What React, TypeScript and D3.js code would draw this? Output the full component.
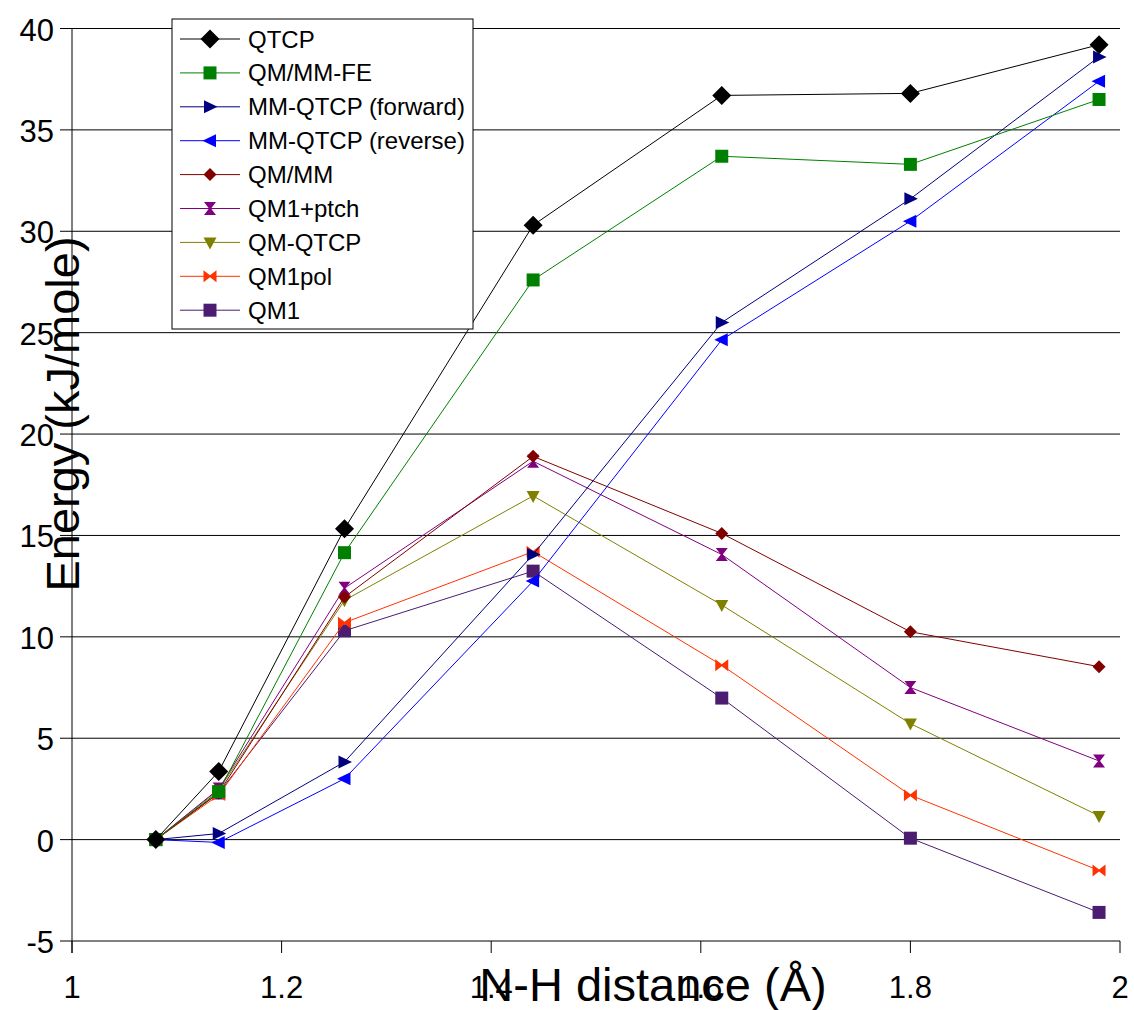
import React from "react";
import * as d3 from "d3";

const xValues = [1.08, 1.14, 1.26, 1.44, 1.62, 1.8, 1.98];
const seriesNames = [
  "QTCP",
  "QM/MM-FE",
  "MM-QTCP (forward)",
  "MM-QTCP (reverse)",
  "QM/MM",
  "QM1+ptch",
  "QM-QTCP",
  "QM1pol",
  "QM1",
];
const qtcp = [0, 3.36, 15.33, 30.3, 36.7, 36.8, 39.2];
const qmmmFE = [0, 2.37, 14.15, 27.6, 33.7, 33.3, 36.5];
const mmqtcpForward = [0, 0.3, 3.83, 14.06, 25.5, 31.6, 38.6];
const mmqtcpReverse = [0, -0.14, 3.0, 12.75, 24.65, 30.5, 37.4];
const qmmm = [0, 2.3, 11.96, 18.9, 15.1, 10.25, 8.53];
const qm1ptch = [0, 2.5, 12.4, 18.66, 14.06, 7.5, 3.88];
const qmqtcp = [0, 2.45, 11.8, 16.95, 11.57, 5.72, 1.17];
const qm1pol = [0, 2.2, 10.7, 14.2, 8.6, 2.19, -1.52];
const qm1 = [0, 2.3, 10.3, 13.24, 6.98, 0.07, -3.59];

const seriesValues = [qtcp, qmmmFE, mmqtcpForward, mmqtcpReverse, qmmm, qm1ptch, qmqtcp, qm1pol, qm1];
const seriesColors = ["#000000", "#008000", "#000080", "#0000FF", "#800000", "#800080", "#808000", "#FF3300", "#4B1C70"];
const seriesMarkers = ["bigDiamond", "square", "triRight", "triLeft", "diamond", "hourglass", "triDown", "bowtie", "square"];

const xTicks = [1, 1.2, 1.4, 1.6, 1.8, 2];
const xTickLabels = ["1", "1.2", "1.4", "1.6", "1.8", "2"];
const yTicks = [-5, 0, 5, 10, 15, 20, 25, 30, 35, 40];

const W = 1134;
const H = 1010;
const left = 72;
const right = 1120;
const top = 28.5;
const bottom = 941;

function markerPath(kind: string): string {
  switch (kind) {
    case "bigDiamond":
      return "M0,-9.5L9.5,0L0,9.5L-9.5,0Z";
    case "diamond":
      return "M0,-6.5L6.5,0L0,6.5L-6.5,0Z";
    case "square":
      return "M-6.5,-6.5L6.5,-6.5L6.5,6.5L-6.5,6.5Z";
    case "triRight":
      return "M-6,-6.5L7.5,0L-6,6.5Z";
    case "triLeft":
      return "M6,-6.5L-7.5,0L6,6.5Z";
    case "triDown":
      return "M-6.5,-5L6.5,-5L0,7Z";
    case "hourglass":
      return "M-6,-6.5L6,-6.5L1,0L6,6.5L-6,6.5L-1,0Z";
    case "bowtie":
      return "M-6.5,-6L0,-1L6.5,-6L6.5,6L0,1L-6.5,6Z";
    default:
      return "";
  }
}

export default function App() {
  const x = d3.scaleLinear().domain([1, 2]).range([left, right]);
  const y = d3.scaleLinear().domain([-5, 40]).range([bottom, top]);
  const line = d3
    .line<number>()
    .x((_, i) => x(xValues[i]))
    .y((d) => y(d));

  const order = seriesValues.map((_, i) => i).reverse();
  const legendX = 172;
  const legendY = 19;
  const rowH = 33.9;

  return (
    <svg width={W} height={H} style={{ position: "absolute", left: 0, top: 0, background: "#fff" }} fontFamily="'Liberation Sans', Arial, sans-serif">
      <rect x={0} y={0} width={W} height={H} fill="#fff" />
      {yTicks.map((t) => (
        <line key={"g" + t} x1={left - 12} x2={right} y1={y(t)} y2={y(t)} stroke="#000" strokeWidth={1} />
      ))}
      <line x1={left} x2={left} y1={top} y2={bottom + 12} stroke="#000" strokeWidth={1} />
      {xTicks.map((t) => (
        <line key={"xt" + t} x1={x(t)} x2={x(t)} y1={bottom} y2={bottom + 12} stroke="#000" strokeWidth={1} />
      ))}
      {yTicks.map((t) => (
        <text key={"yl" + t} x={54} y={y(t) + 12} fontSize={31} textAnchor="end" fill="#000">
          {t}
        </text>
      ))}
      {xTicks.map((t, i) => (
        <text key={"xl" + t} x={x(t)} y={998} fontSize={31} textAnchor="middle" fill="#000">
          {xTickLabels[i]}
        </text>
      ))}
      {order.map((si) => (
        <g key={"s" + si}>
          <path d={line(seriesValues[si]) || ""} fill="none" stroke={seriesColors[si]} strokeWidth={1} />
          {seriesValues[si].map((v, j) => (
            <path key={j} d={markerPath(seriesMarkers[si])} transform={`translate(${x(xValues[j])},${y(v)})`} fill={seriesColors[si]} />
          ))}
        </g>
      ))}
      <rect x={legendX} y={legendY} width={301} height={310} fill="#fff" stroke="#000" strokeWidth={1} />
      {seriesNames.map((name, i) => {
        const cy = legendY + 20 + i * rowH;
        return (
          <g key={"lg" + i}>
            <line x1={180} x2={240} y1={cy} y2={cy} stroke={seriesColors[i]} strokeWidth={1} />
            <path d={markerPath(seriesMarkers[i])} transform={`translate(210,${cy})`} fill={seriesColors[i]} />
            <text x={248} y={cy + 8.5} fontSize={24} fill="#000">
              {name}
            </text>
          </g>
        );
      })}
      <text x={653} y={1001} fontSize={47} textAnchor="middle" fill="#000">
        N-H distance (Å)
      </text>
      <text transform={`translate(79,414) rotate(-90)`} fontSize={47} textAnchor="middle" fill="#000">
        Energy (kJ/mole)
      </text>
    </svg>
  );
}
